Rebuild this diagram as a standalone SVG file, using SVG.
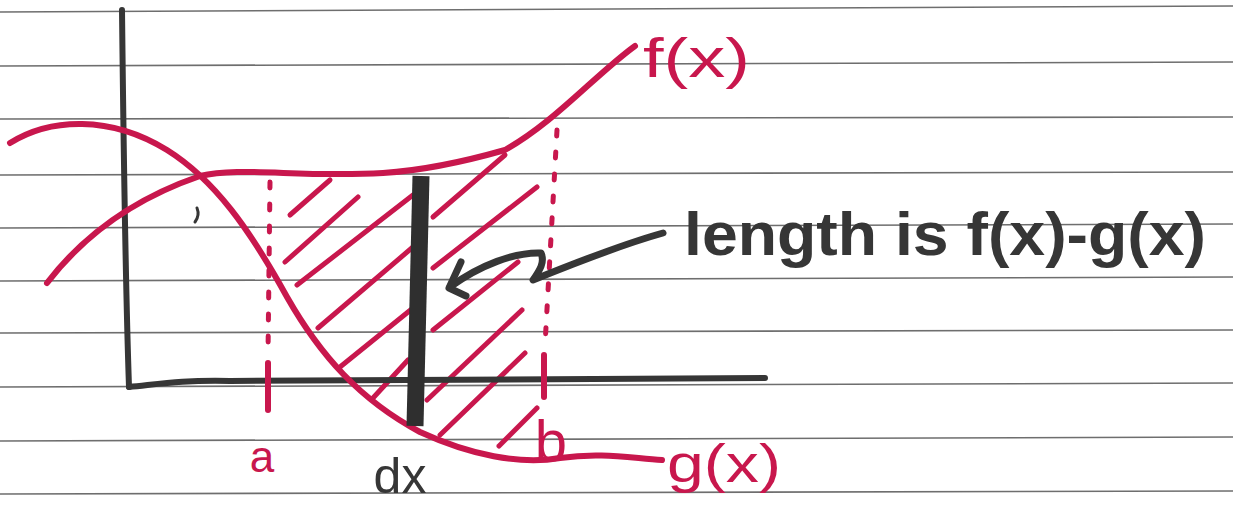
<svg xmlns="http://www.w3.org/2000/svg" width="1233" height="523" viewBox="0 0 1233 523">
<style>
.rule{stroke:#6e6e6e;stroke-width:1.6;fill:none}
.ink{stroke:#363636;fill:none;stroke-linecap:round;stroke-linejoin:round}
.red{stroke:#c8174d;fill:none;stroke-linecap:round;stroke-linejoin:round}
.hatch{stroke:#c8174d;stroke-width:5;stroke-linecap:round}
.dots{stroke:#c8174d;stroke-width:5;stroke-linecap:round;stroke-dasharray:6 16;fill:none}
.lblr{font-family:"Liberation Sans",Arial,sans-serif;fill:#c8174d}
.lblk{font-family:"Liberation Sans",Arial,sans-serif;fill:#363636}
</style>
<rect width="1233" height="523" fill="#ffffff"/>
<g id="paper-lines">
<line class="rule" x1="0" y1="12" x2="1233" y2="6"/>
<line class="rule" x1="0" y1="66" x2="1233" y2="62"/>
<line class="rule" x1="0" y1="119" x2="1233" y2="117"/>
<line class="rule" x1="0" y1="175" x2="1233" y2="172"/>
<line class="rule" x1="0" y1="228" x2="1233" y2="224"/>
<line class="rule" x1="0" y1="281" x2="1233" y2="277"/>
<line class="rule" x1="0" y1="333" x2="1233" y2="330"/>
<line class="rule" x1="0" y1="387" x2="1233" y2="383"/>
<line class="rule" x1="0" y1="441" x2="1233" y2="437"/>
<line class="rule" x1="0" y1="494" x2="1233" y2="491"/>
</g>
<g id="hatching">
<line class="hatch" x1="290" y1="215" x2="330" y2="180"/>
<line class="hatch" x1="285" y1="262" x2="358" y2="197"/>
<line class="hatch" x1="297" y1="285" x2="413" y2="195"/>
<line class="hatch" x1="318" y1="328" x2="413" y2="247"/>
<line class="hatch" x1="340" y1="367" x2="413" y2="308"/>
<line class="hatch" x1="373" y1="398" x2="408" y2="360"/>
<line class="hatch" x1="433" y1="217" x2="505" y2="155"/>
<line class="hatch" x1="433" y1="268" x2="537" y2="187"/>
<line class="hatch" x1="433" y1="330" x2="518" y2="262"/>
<line class="hatch" x1="427" y1="400" x2="522" y2="310"/>
<line class="hatch" x1="440" y1="435" x2="525" y2="353"/>
<line class="hatch" x1="499" y1="446" x2="537" y2="408"/>
</g>
<g id="axes">
<path class="ink" stroke-width="6" d="M122 10 C123 100 126 300 129 387"/>
<path class="ink" stroke-width="6" d="M129 387 C160 384 180 380 230 381 L765 378"/>
</g>
<g id="curve-f">
<path class="red" stroke-width="6" d="M47 283 C80 240 130 200 200 176 C240 166 300 178 383 173 C430 170 470 160 505 150 C555 122 595 75 635 46"/>
</g>
<g id="curve-g">
<path class="red" stroke-width="6" d="M10 143 C50 118 110 115 167 150 C215 180 250 230 287 297 C320 355 360 400 420 432 C470 455 520 465 560 458 C600 452 630 458 662 460"/>
</g>
<g id="bounds">
<path class="dots" d="M270 182 L268 355"/>
<line class="red" stroke-width="6" x1="268" y1="363" x2="268" y2="410"/>
<path class="dots" d="M557 130 L545 345"/>
<line class="red" stroke-width="6" x1="544" y1="355" x2="544" y2="397"/>
</g>
<g id="strip-dx">
<line stroke="#2f2f2f" stroke-width="17" stroke-linecap="butt" x1="421" y1="176" x2="415" y2="426"/>
</g>
<g id="stray-mark">
<path class="ink" stroke-width="3" d="M197 208 C199 213 198 218 195 222"/>
</g>
<g id="connectors">
<path class="ink" stroke-width="7" d="M663 233 C620 245 570 265 533 280 C540 270 545 262 541 253 C515 252 480 265 450 287"/>
<path class="ink" stroke-width="7" d="M461 262 L449 288 L466 296"/>
</g>
<g id="label-length">
<text class="lblk" x="684" y="255" font-size="62" font-weight="bold" textLength="522" lengthAdjust="spacingAndGlyphs">length is f(x)-g(x)</text>
</g>
<g id="label-f">
<text class="lblr" x="643" y="77" font-size="56" textLength="107" lengthAdjust="spacingAndGlyphs">f(x)</text>
</g>
<g id="label-g">
<text class="lblr" x="667" y="482" font-size="54" textLength="114" lengthAdjust="spacingAndGlyphs">g(x)</text>
</g>
<g id="label-a">
<text class="lblr" x="262" y="472" font-size="44" text-anchor="middle">a</text>
</g>
<g id="label-b">
<text class="lblr" x="551" y="461" font-size="58" text-anchor="middle">b</text>
</g>
<g id="label-dx">
<text class="lblk" x="400" y="493" font-size="50" text-anchor="middle">dx</text>
</g>
</svg>
